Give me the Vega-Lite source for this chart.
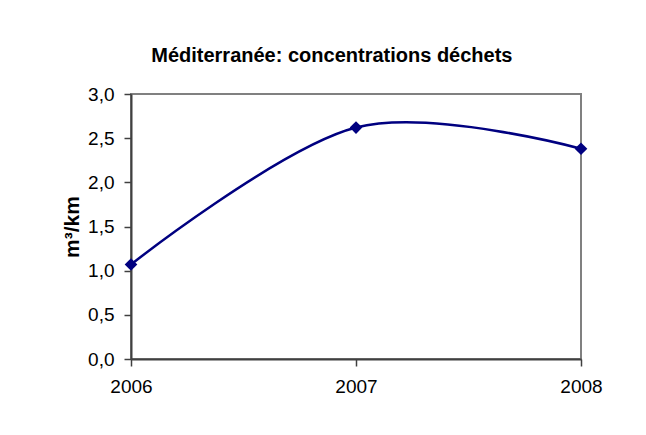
{
  "$schema": "https://vega.github.io/schema/vega-lite/v6.json",
  "width": 450,
  "height": 265,
  "autosize": {"type": "none"},
  "padding": {"left": 131, "top": 94, "right": 65, "bottom": 76},
  "background": "white",
  "title": {
    "text": "Méditerranée: concentrations déchets",
    "font": "Liberation Sans",
    "fontSize": 20,
    "fontWeight": "bold",
    "color": "black",
    "anchor": "middle",
    "frame": "bounds",
    "offset": 19
  },
  "data": {
    "values": [
      {"year": "2006", "value": 1.07},
      {"year": "2007", "value": 2.62},
      {"year": "2008", "value": 2.38}
    ]
  },
  "mark": {
    "type": "line",
    "interpolate": "cardinal",
    "color": "#000080",
    "strokeWidth": 2.5,
    "clip": false,
    "point": {"shape": "diamond", "size": 160, "filled": true, "color": "#000080", "opacity": 1}
  },
  "encoding": {
    "x": {
      "field": "year",
      "type": "ordinal",
      "scale": {"type": "point", "padding": 0},
      "axis": {
        "title": null,
        "grid": false,
        "labelAngle": 0,
        "labelPadding": 11
      }
    },
    "y": {
      "field": "value",
      "type": "quantitative",
      "scale": {"domain": [0, 3], "nice": false},
      "axis": {
        "values": [0, 0.5, 1, 1.5, 2, 2.5, 3],
        "labelExpr": "replace(format(datum.value, '.1f'), '.', ',')",
        "title": "m³/km",
        "grid": false,
        "labelPadding": 10,
        "titlePadding": 5
      }
    }
  },
  "config": {
    "view": {"stroke": "#808080", "strokeWidth": 2},
    "axis": {
      "domainColor": "#404040",
      "domainWidth": 2,
      "tickColor": "#404040",
      "tickWidth": 1.5,
      "tickSize": 7,
      "labelFont": "Liberation Sans",
      "labelFontSize": 19,
      "labelColor": "black",
      "labelFlush": false,
      "labelOverlap": false,
      "titleFont": "Liberation Sans",
      "titleFontSize": 21,
      "titleFontWeight": "bold",
      "titleColor": "black"
    }
  }
}
